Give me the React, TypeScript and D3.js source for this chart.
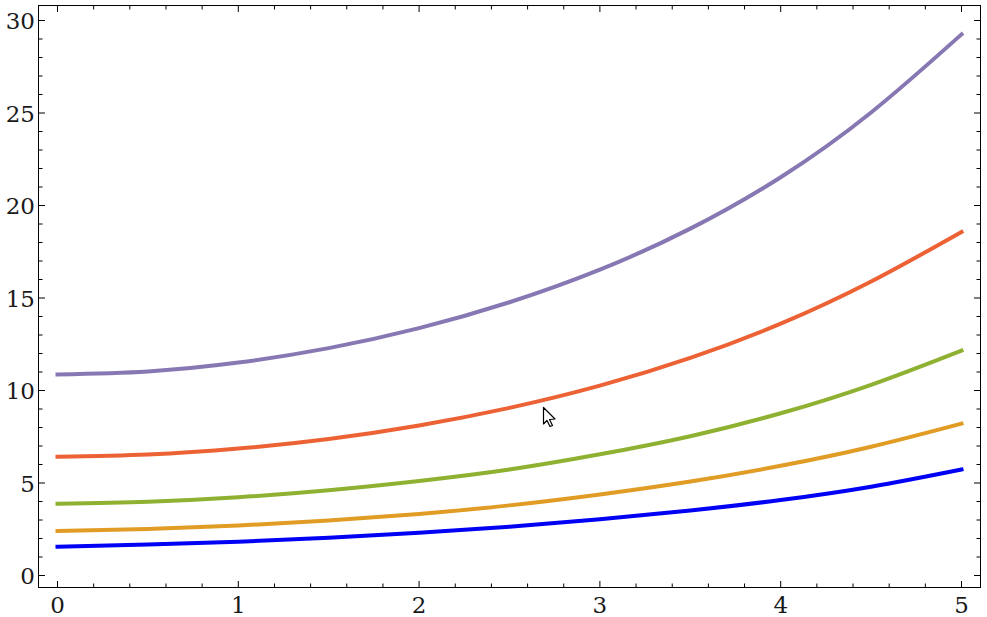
import React from "react";
import * as d3 from "d3";

const xValues = [0, 0.5, 1, 1.5, 2, 2.5, 3, 3.5, 4, 4.5, 5];
const purple = [10.87, 11.03, 11.51, 12.29, 13.37, 14.77, 16.53, 18.75, 21.53, 25.03, 29.25];
const red = [6.42, 6.54, 6.86, 7.38, 8.11, 9.06, 10.26, 11.76, 13.61, 15.89, 18.57];
const green = [3.88, 3.99, 4.23, 4.61, 5.11, 5.73, 6.55, 7.53, 8.77, 10.31, 12.16];
const orange = [2.41, 2.52, 2.7, 2.97, 3.33, 3.79, 4.38, 5.08, 5.93, 6.96, 8.21];
const blue = [1.56, 1.67, 1.83, 2.04, 2.31, 2.64, 3.04, 3.51, 4.08, 4.8, 5.73];
const seriesList = [
  { values: blue, color: "#0000f5" },
  { values: orange, color: "#e09c24" },
  { values: green, color: "#8fb131" },
  { values: red, color: "#ec6235" },
  { values: purple, color: "#8778b3" },
];
const xMajor = [0, 1, 2, 3, 4, 5];
const xMinor = d3.range(0, 26).map((i) => i / 5);
const yMajor = [0, 5, 10, 15, 20, 25, 30];
const yMinor = d3.range(0, 31);

const W = 987, H = 617;
const L = 38.5, R = 980.5, T = 5.5, B = 587.5;
const x = d3.scaleLinear().domain([0, 5]).range([57.5, 961.5]);
const y = d3.scaleLinear().domain([0, 30]).range([575.5, 20.5]);
const line = d3.line<number>().x((_, i) => x(xValues[i])).y((d) => y(d)).curve(d3.curveNatural);
const ink = "#1a1a1a";

export default function App() {
  return (
    <svg width={W} height={H} style={{ position: "absolute", left: 0, top: 0, background: "#fff" }}>
      {seriesList.map((s, i) => (
        <path key={i} d={line(s.values) ?? ""} fill="none" stroke={s.color} strokeWidth={4} strokeLinecap="square" />
      ))}
      <rect x={L} y={T} width={R - L} height={B - T} fill="none" stroke="#000" strokeWidth={1} />
      {xMinor.map((v) => {
        const major = xMajor.includes(v);
        const len = major ? 6.5 : 4;
        return (
          <g key={v} stroke="#000" strokeWidth={1}>
            <line x1={x(v)} x2={x(v)} y1={B} y2={B - len} />
            <line x1={x(v)} x2={x(v)} y1={T} y2={T + len} />
          </g>
        );
      })}
      {yMinor.map((v) => {
        const major = yMajor.includes(v);
        const len = major ? 6.5 : 4;
        return (
          <g key={v} stroke="#000" strokeWidth={1}>
            <line x1={L} x2={L + len} y1={y(v)} y2={y(v)} />
            <line x1={R} x2={R - len} y1={y(v)} y2={y(v)} />
          </g>
        );
      })}
      <g fontFamily="'DejaVu Serif'" fontSize={23} fill={ink}>
        {xMajor.map((v) => (
          <text key={v} x={x(v)} y={612.5} textAnchor="middle">{v}</text>
        ))}
        {yMajor.map((v) => (
          <text key={v} x={35} y={y(v) + 8.5} textAnchor="end">{v}</text>
        ))}
      </g>
      <path
        d="M543.5 407.5 L543.5 424 L547 420.5 L550 426.5 L552.5 425.5 L549.5 419.5 L555 419 Z"
        fill="#fff"
        stroke="#000"
        strokeWidth={1.2}
        strokeLinejoin="round"
      />
    </svg>
  );
}
